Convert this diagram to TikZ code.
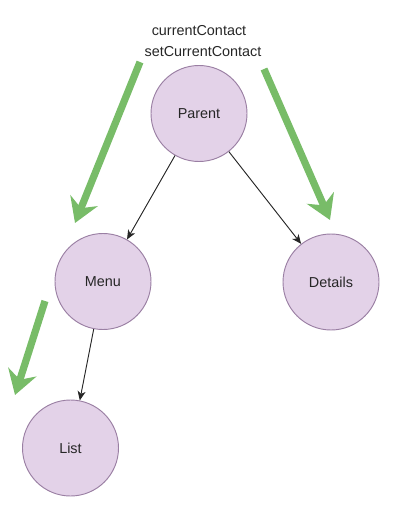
\documentclass[tikz,border=0pt]{standalone}
\usepackage{fontspec}
\setmainfont{Liberation Sans}
\usetikzlibrary{arrows.meta}
\definecolor{nodefill}{HTML}{E3D2E8}
\definecolor{nodeline}{HTML}{9A7FA3}
\definecolor{flowgreen}{HTML}{78BC68}
\tikzset{
  comp/.style={circle, draw=nodeline, fill=nodefill, line width=0.7pt, minimum size=72pt, inner sep=0pt, font=\fontsize{10.8pt}{12pt}\selectfont, text=black!85},
  link/.style={draw=black!85, line width=0.7pt, -{Stealth[length=7pt,width=6pt,inset=2pt]}},
  flow/.style={draw=flowgreen, line width=5.4pt, -{Stealth[length=18pt,width=22pt,inset=6pt]}},
  lbl/.style={font=\fontsize{10.8pt}{12pt}\selectfont, text=black!85}
}
\begin{document}
\begin{tikzpicture}[x=0.75pt,y=-0.75pt]
\useasboundingbox (0,0) rectangle (404,520);
\node[comp] (parent) at (199,113.5) {Parent};
\node[comp] (menu) at (103,281.5) {Menu};
\node[comp] (details) at (331,282) {Details};
\node[comp] (list) at (70.5,448) {List};
\node[lbl] (l1) at (199,31) {currentContact};
\node[lbl] (l2) at (203,52) {setCurrentContact};
\draw[link] (parent) -- (menu);
\draw[link] (parent) -- (details);
\draw[link] (menu) -- (list);
\coordinate (g1s) at (140,62);
\coordinate (g1e) at (75,223);
\coordinate (g2s) at (264,69);
\coordinate (g2e) at (330,220);
\coordinate (g3s) at (45,301);
\coordinate (g3e) at (15,395);
\draw[flow] (g1s) -- (g1e);
\draw[flow] (g2s) -- (g2e);
\draw[flow] (g3s) -- (g3e);
\end{tikzpicture}
\end{document}
